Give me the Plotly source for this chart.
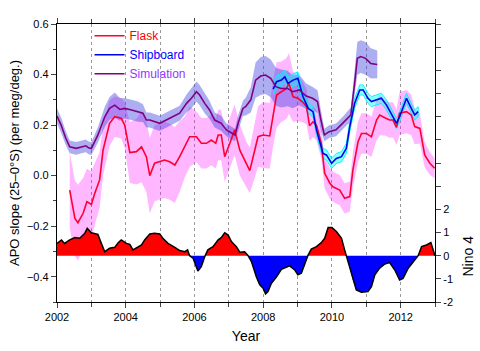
import plotly.graph_objects as go

# ---------------- data ----------------
flask_t = [2002.37, 2002.52, 2002.61, 2002.76, 2002.87, 2003.00, 2003.10,
           2003.24, 2003.34, 2003.53, 2003.68, 2003.87, 2003.97,
           2004.12, 2004.31, 2004.46, 2004.60, 2004.70, 2004.84, 2004.99, 2005.13, 2005.28, 2005.43, 2005.57,
           2005.72, 2005.86, 2006.06, 2006.20, 2006.35, 2006.49, 2006.62, 2006.69, 2006.78, 2006.88, 2007.03, 2007.17,
           2007.32, 2007.51, 2007.61, 2007.85, 2008.00, 2008.19, 2008.29, 2008.39, 2008.53, 2008.68, 2008.75, 2008.87,
           2009.01, 2009.16, 2009.26,
           2009.35, 2009.45, 2009.55, 2009.69, 2009.79, 2009.94, 2010.03, 2010.23, 2010.37, 2010.52, 2010.61,
           2010.76, 2010.86, 2011.00, 2011.15, 2011.30, 2011.39, 2011.54, 2011.68, 2011.78, 2011.88, 2011.97,
           2012.17, 2012.31, 2012.41, 2012.56, 2012.70, 2012.85, 2012.99]
flask = [-0.057, -0.169, -0.186, -0.149, -0.103, -0.114, -0.07,
         -0.017, 0.101, 0.207, 0.233, 0.227, 0.2,
         0.091, 0.095, 0.114, 0.075, 0.0, 0.049, 0.055, 0.062, 0.055, 0.042, 0.075,
         0.114, 0.154, 0.154, 0.128, 0.128, 0.141, 0.128, 0.161, 0.161, 0.075, 0.128, 0.181,
         0.101, 0.045, 0.02, 0.154, 0.161, 0.157, 0.247, 0.319, 0.332, 0.345, 0.365, 0.312,
         0.306, 0.29, 0.273,
         0.197, 0.213, 0.2, 0.128, 0.009, -0.03, -0.044, -0.057, -0.09, -0.083, 0.022,
         0.134, 0.167, 0.167, 0.154, 0.22, 0.24, 0.229, 0.22, 0.22, 0.191, 0.247,
         0.253, 0.24, 0.194, 0.187, 0.082, 0.049, 0.029]
flask_err = [0.15, 0.15, 0.15, 0.14, 0.13, 0.13, 0.12,
             0.11, 0.10, 0.09, 0.08, 0.08, 0.09,
             0.12, 0.13, 0.14, 0.14, 0.15, 0.15, 0.15, 0.15, 0.15, 0.15, 0.14,
             0.12, 0.12, 0.10, 0.10, 0.10, 0.10, 0.10, 0.10, 0.10, 0.10, 0.10, 0.10,
             0.10, 0.09, 0.09, 0.12, 0.13, 0.13, 0.13, 0.13, 0.12, 0.12, 0.12, 0.10,
             0.09, 0.08, 0.07,
             0.06, 0.06, 0.06, 0.06, 0.06, 0.06, 0.06, 0.06, 0.06, 0.06, 0.07,
             0.08, 0.08, 0.08, 0.08, 0.08, 0.08, 0.07, 0.07, 0.07, 0.07, 0.085,
             0.085, 0.08, 0.07, 0.06, 0.05, 0.045, 0.04]

ship_t = [2008.29, 2008.39, 2008.53, 2008.63, 2008.72, 2008.87, 2009.01, 2009.16, 2009.31, 2009.45,
          2009.55, 2009.65, 2009.74, 2009.84, 2009.99, 2010.13, 2010.28, 2010.42, 2010.52, 2010.66,
          2010.81, 2010.91, 2011.05, 2011.15, 2011.30, 2011.44, 2011.59, 2011.73, 2011.88, 2011.97,
          2012.07, 2012.17, 2012.31, 2012.41, 2012.51]
ship = [0.342, 0.372, 0.378, 0.391, 0.365, 0.378, 0.385, 0.312, 0.266, 0.253,
        0.181, 0.128, 0.088, 0.082, 0.049, 0.068, 0.075, 0.108, 0.194, 0.286,
        0.339, 0.339, 0.306, 0.293, 0.3, 0.306, 0.279, 0.247, 0.207, 0.233,
        0.273, 0.306, 0.266, 0.24, 0.253]
ship_err = [0.025, 0.025, 0.025, 0.025, 0.025, 0.025, 0.025, 0.022, 0.02, 0.02,
            0.02, 0.02, 0.02, 0.02, 0.02, 0.02, 0.02, 0.02, 0.02, 0.02,
            0.02, 0.02, 0.02, 0.02, 0.02, 0.02, 0.02, 0.02, 0.02, 0.02,
            0.02, 0.02, 0.02, 0.02, 0.02]

sim_t = [2002.00, 2002.12, 2002.25, 2002.37, 2002.56, 2002.71, 2002.84, 2002.92, 2003.00,
         2003.19, 2003.39, 2003.53, 2003.68, 2003.83, 2003.97, 2004.17, 2004.36, 2004.50,
         2004.60, 2004.70, 2004.99, 2005.28, 2005.57,
         2005.77, 2005.91, 2006.06, 2006.15, 2006.30, 2006.44,
         2006.59, 2006.78, 2006.93, 2007.08, 2007.18, 2007.27, 2007.41,
         2007.49, 2007.64, 2007.78, 2007.93, 2008.07, 2008.22,
         2008.37, 2008.52, 2008.71, 2008.86, 2009.05,
         2009.25, 2009.44, 2009.58, 2009.68,
         2009.78, 2009.92, 2010.12, 2010.31, 2010.45, 2010.55,
         2010.65, 2010.74, 2010.84, 2010.98, 2011.13, 2011.32]
sim = [0.236, 0.20, 0.15, 0.114, 0.108, 0.114, 0.118, 0.11, 0.107,
       0.161, 0.233, 0.266, 0.279, 0.262, 0.266, 0.26, 0.253, 0.247,
       0.22, 0.22, 0.207, 0.227, 0.247,
       0.286, 0.306, 0.332, 0.319, 0.286, 0.26,
       0.22, 0.207, 0.181, 0.167, 0.161, 0.207, 0.266,
       0.273, 0.30, 0.378, 0.394, 0.398, 0.385,
       0.352, 0.345, 0.345, 0.332, 0.339,
       0.315, 0.306, 0.293, 0.22,
       0.161, 0.174, 0.181, 0.207, 0.227, 0.24,
       0.352, 0.464, 0.471, 0.464, 0.444, 0.44]
sim_err = [0.03, 0.03, 0.028, 0.025, 0.025, 0.025, 0.025, 0.025, 0.025,
           0.03, 0.04, 0.045, 0.05, 0.045, 0.04, 0.04, 0.04, 0.035,
           0.03, 0.03, 0.03, 0.03, 0.03,
           0.035, 0.04, 0.04, 0.04, 0.04, 0.035,
           0.03, 0.03, 0.025, 0.025, 0.025, 0.03, 0.03,
           0.035, 0.05, 0.07, 0.075, 0.075, 0.075,
           0.075, 0.075, 0.07, 0.065, 0.06,
           0.05, 0.045, 0.045, 0.04,
           0.025, 0.025, 0.025, 0.025, 0.025, 0.03,
           0.05, 0.065, 0.065, 0.065, 0.06, 0.055]

nino_t = [2002.00, 2002.13, 2002.22, 2002.37, 2002.52, 2002.66, 2002.81, 2002.88, 2003.00, 2003.19,
          2003.29, 2003.39, 2003.53, 2003.68, 2003.78, 2003.87, 2004.02, 2004.12, 2004.21, 2004.31,
          2004.46, 2004.55, 2004.70, 2004.84, 2004.99, 2005.08, 2005.23, 2005.43, 2005.57, 2005.72,
          2005.80, 2005.86, 2005.96, 2006.10, 2006.20, 2006.30, 2006.39, 2006.54, 2006.69, 2006.78,
          2006.88, 2006.98, 2007.08, 2007.22, 2007.32, 2007.46, 2007.56, 2007.66, 2007.80, 2007.90,
          2008.00, 2008.07, 2008.14, 2008.24, 2008.39, 2008.53, 2008.68, 2008.77, 2008.92, 2009.01,
          2009.11, 2009.20, 2009.30, 2009.40, 2009.55, 2009.69, 2009.79, 2009.89, 2010.00, 2010.13,
          2010.28, 2010.37, 2010.42, 2010.52, 2010.61, 2010.71, 2010.86, 2011.05, 2011.15, 2011.25,
          2011.39, 2011.54, 2011.68, 2011.83, 2011.97, 2012.07, 2012.22, 2012.36, 2012.51, 2012.61,
          2012.75, 2012.88, 2012.94, 2013.00]
nino = [0.53, 0.68, 0.53, 0.68, 0.78, 0.75, 0.97, 1.18, 0.99, 0.92,
        0.53, 0.17, 0.32, 0.36, 0.56, 0.68, 0.53, 0.49, 0.25, 0.32,
        0.46, 0.68, 0.94, 0.97, 0.94, 0.75, 0.53, 0.36, 0.22, 0.17,
        0.25, 0.0, -0.11, -0.66, -0.47, -0.04, 0.25, 0.39, 0.68, 0.78,
        0.99, 0.89, 0.6, 0.39, 0.15, 0.17, 0.0, -0.26, -0.91, -1.26,
        -1.41, -1.65, -1.55, -1.19, -0.91, -0.59, -0.5, -0.44, -0.62, -0.83,
        -0.76, -0.4, 0.0, 0.28, 0.39, 0.56, 0.75, 1.22, 1.22, 1.04,
        0.75, 0.25, 0.0, -0.54, -1.05, -1.48, -1.58, -1.55, -1.34, -0.83,
        -0.54, -0.36, -0.3, -0.62, -1.05, -0.98, -0.54, -0.3, 0.0, 0.39,
        0.46, 0.56, 0.32, 0.0]

year_ticks = list(range(2002, 2014, 2))
nino_ticks = list(range(-2, 11))
nino_labels = [str(v) if v <= 2 else "" for v in nino_ticks]

# ---------------- helpers ----------------
def band_xy(t, mid, err):
    hi = [m + e for m, e in zip(mid, err)]
    lo = [m - e for m, e in zip(mid, err)]
    return list(t) + list(t)[::-1], hi + lo[::-1]


def split_sign(t, v):
    xs, ys = [], []
    for i in range(len(t)):
        if i > 0 and v[i - 1] * v[i] < 0:
            tc = t[i - 1] + (t[i] - t[i - 1]) * (-v[i - 1]) / (v[i] - v[i - 1])
            xs.append(tc)
            ys.append(0.0)
        xs.append(t[i])
        ys.append(v[i])
    return xs, [max(y, 0) for y in ys], [min(y, 0) for y in ys]


fig = go.Figure()

# bands
bx, by = band_xy(flask_t, flask, flask_err)
fig.add_trace(go.Scatter(x=bx, y=by, fill="toself", fillcolor="rgba(255,0,255,0.28)",
                         line=dict(width=0), mode="lines", showlegend=False, hoverinfo="skip"))
bx, by = band_xy(sim_t, sim, sim_err)
fig.add_trace(go.Scatter(x=bx, y=by, fill="toself", fillcolor="rgba(60,60,225,0.42)",
                         line=dict(width=0), mode="lines", showlegend=False, hoverinfo="skip"))
bx, by = band_xy(ship_t, ship, ship_err)
fig.add_trace(go.Scatter(x=bx, y=by, fill="toself", fillcolor="rgba(0,255,255,0.45)",
                         line=dict(width=1, color="rgba(0,240,255,0.9)"), mode="lines",
                         showlegend=False, hoverinfo="skip"))

# lines
fig.add_trace(go.Scatter(x=flask_t, y=flask, mode="lines", line=dict(color="#ff0033", width=1.6),
                         name='<span style="color:#ff0000">Flask</span>'))
fig.add_trace(go.Scatter(x=ship_t, y=ship, mode="lines", line=dict(color="#0000e6", width=1.6),
                         name='<span style="color:#0000ff">Shipboard</span>'))
fig.add_trace(go.Scatter(x=sim_t, y=sim, mode="lines", line=dict(color="#800080", width=1.6),
                         name='<span style="color:#9933ff">Simulation</span>'))

# Nino 4
nx, npos, nneg = split_sign(nino_t, nino)
fig.add_trace(go.Scatter(x=nx, y=npos, yaxis="y2", fill="tozeroy", fillcolor="#ff0000",
                         mode="lines", line=dict(width=0, color="#ff0000"), showlegend=False, hoverinfo="skip"))
fig.add_trace(go.Scatter(x=nx, y=nneg, yaxis="y2", fill="tozeroy", fillcolor="#0000ff",
                         mode="lines", line=dict(width=0, color="#0000ff"), showlegend=False, hoverinfo="skip"))
fig.add_trace(go.Scatter(x=nino_t, y=nino, yaxis="y2", mode="lines",
                         line=dict(color="black", width=1.5), showlegend=False, hoverinfo="skip"))

font = "Liberation Sans, Arial, sans-serif"
fig.update_layout(
    width=480, height=351,
    margin=dict(l=57, r=45, t=24, b=49, autoexpand=False),
    paper_bgcolor="white", plot_bgcolor="white",
    font=dict(family=font, size=11, color="black"),
    showlegend=True,
    legend=dict(x=0.086, y=1.01, xanchor="left", yanchor="top", bgcolor="rgba(0,0,0,0)",
                font=dict(size=12), tracegroupgap=0, itemwidth=30),
    xaxis=dict(range=[2002, 2013], tickvals=year_ticks, ticks="outside", ticklen=5,
               showline=True, linecolor="black", linewidth=1.3, mirror="ticks", automargin=False,
               showgrid=True, gridcolor="#999", griddash="dot", gridwidth=0.8,
               minor=dict(dtick=1, ticks="outside", ticklen=4, showgrid=True,
                          gridcolor="#999", griddash="dot", gridwidth=0.8),
               zeroline=False,
               title=dict(text="Year", font=dict(size=14), standoff=8)),
    yaxis=dict(range=[-0.5, 0.6], tick0=0, dtick=0.2, tickformat=".1f", ticks="outside", ticklen=5,
               showline=True, linecolor="black", linewidth=1.3, showgrid=False, zeroline=False,
               automargin=False,
               minor=dict(dtick=0.1, ticks="outside", ticklen=3),
               title=dict(text="APO slope (25\u20130\u00b0S) (per meg/deg.)", font=dict(size=13), standoff=4)),
    yaxis2=dict(range=[-2, 10], overlaying="y", side="right", tickvals=nino_ticks, ticktext=nino_labels,
                ticks="outside", ticklen=5, showline=True, linecolor="black", linewidth=1.3,
                automargin=False, showgrid=False, zeroline=False),
    annotations=[dict(text="Nino 4", xref="paper", yref="y2", x=1.087, y=0, textangle=-90,
                      showarrow=False, font=dict(size=14, family=font), xanchor="center", yanchor="middle")],
)

fig.write_html("out.html")
